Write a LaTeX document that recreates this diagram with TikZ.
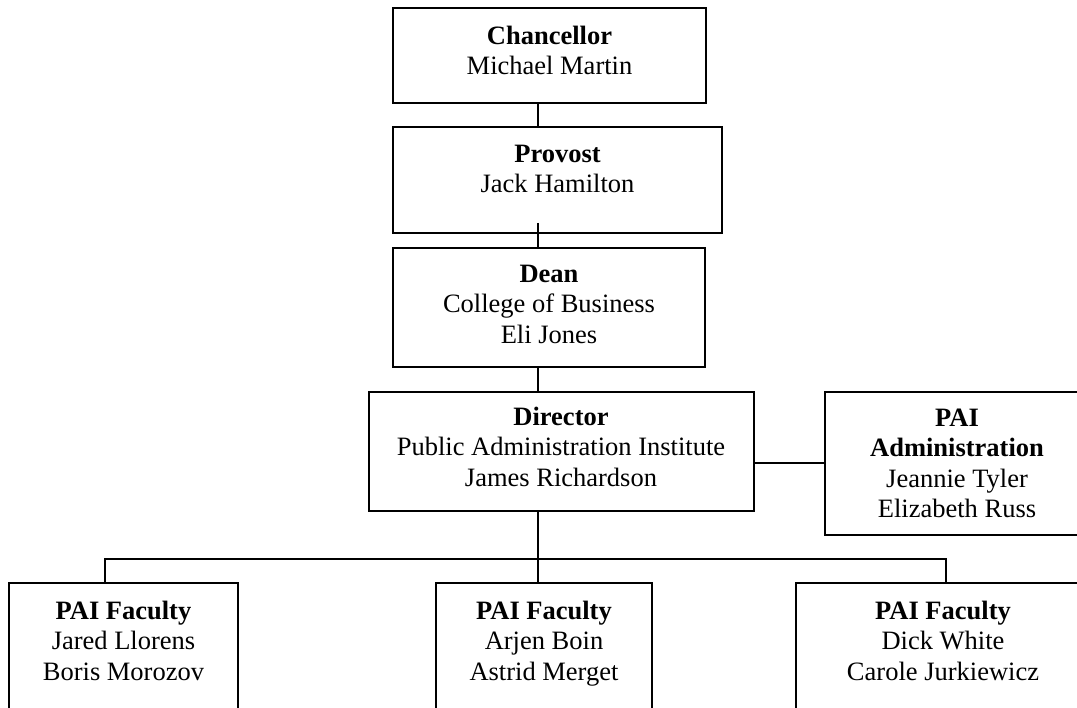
\documentclass[tikz,border=0pt]{standalone}
\usepackage{fontspec}
\setmainfont{Liberation Serif}
\usetikzlibrary{calc}
\begin{document}
\begin{tikzpicture}[x=1pt,y=-1pt,
  box/.style={draw=black,line width=1.6pt,inner sep=0pt,outer sep=0pt,anchor=north west},
  txt/.style={inner sep=0pt,outer sep=0pt,anchor=north,align=center,font=\fontsize{26.5}{30.5}\selectfont},
  wire/.style={draw=black,line width=1.6pt}]
\useasboundingbox (0,0) rectangle (1077,708);
% boxes
\node[box,minimum width=313pt,minimum height=95pt]  (chan) at (393,8) {};
\node[box,minimum width=329pt,minimum height=106pt] (prov) at (393,127) {};
\node[box,minimum width=312pt,minimum height=119pt] (dean) at (393,248) {};
\node[box,minimum width=385pt,minimum height=119pt] (dir)  at (369,392) {};
\node[box,minimum width=264pt,minimum height=143pt] (pai)  at (825,392) {};
\node[box,minimum width=229pt,minimum height=150pt] (f1)   at (9,583) {};
\node[box,minimum width=216pt,minimum height=150pt] (f2)   at (436,583) {};
\node[box,minimum width=294pt,minimum height=150pt] (f3)   at (796,583) {};
% texts
\node[txt] (tchan) at (549.5,26) {\textbf{Chancellor}\\Michael Martin};
\node[txt] (tprov) at (557.5,145) {\textbf{Provost}\\Jack Hamilton};
\node[txt] (tdean) at (549,265) {\textbf{Dean}\\College of Business\\Eli Jones};
\node[txt] (tdir)  at (561,407) {\textbf{Director}\\Public Administration Institute\\James Richardson};
\node[txt] (tpai)  at (957,409) {\textbf{PAI}\\\textbf{Administration}\\Jeannie Tyler\\Elizabeth Russ};
\node[txt] (tf1)   at (123.5,601) {\textbf{PAI Faculty}\\Jared Llorens\\Boris Morozov};
\node[txt] (tf2)   at (544,601) {\textbf{PAI Faculty}\\Arjen Boin\\Astrid Merget};
\node[txt] (tf3)   at (943,601) {\textbf{PAI Faculty}\\Dick White\\Carole Jurkiewicz};
% connector guides
\coordinate (cx) at (538,0);
\coordinate (d1) at (105,0);
\coordinate (d3) at (946,0);
\coordinate (bus) at (0,559);
\coordinate (hy) at (0,463);
% connectors
\draw[wire] (chan.south -| cx) -- (prov.north -| cx);
\draw[wire] ($(prov.south -| cx)+(0,-10)$) -- (dean.north -| cx);
\draw[wire] (dean.south -| cx) -- (dir.north -| cx);
\draw[wire] (dir.east |- hy) -- (pai.west |- hy);
\draw[wire] (dir.south -| cx) -- (bus -| cx);
\draw[wire] (f1.north -| d1) -- (bus -| d1) -- (bus -| d3) -- (f3.north -| d3);
\draw[wire] (bus -| cx) -- (f2.north -| cx);
\end{tikzpicture}
\end{document}
